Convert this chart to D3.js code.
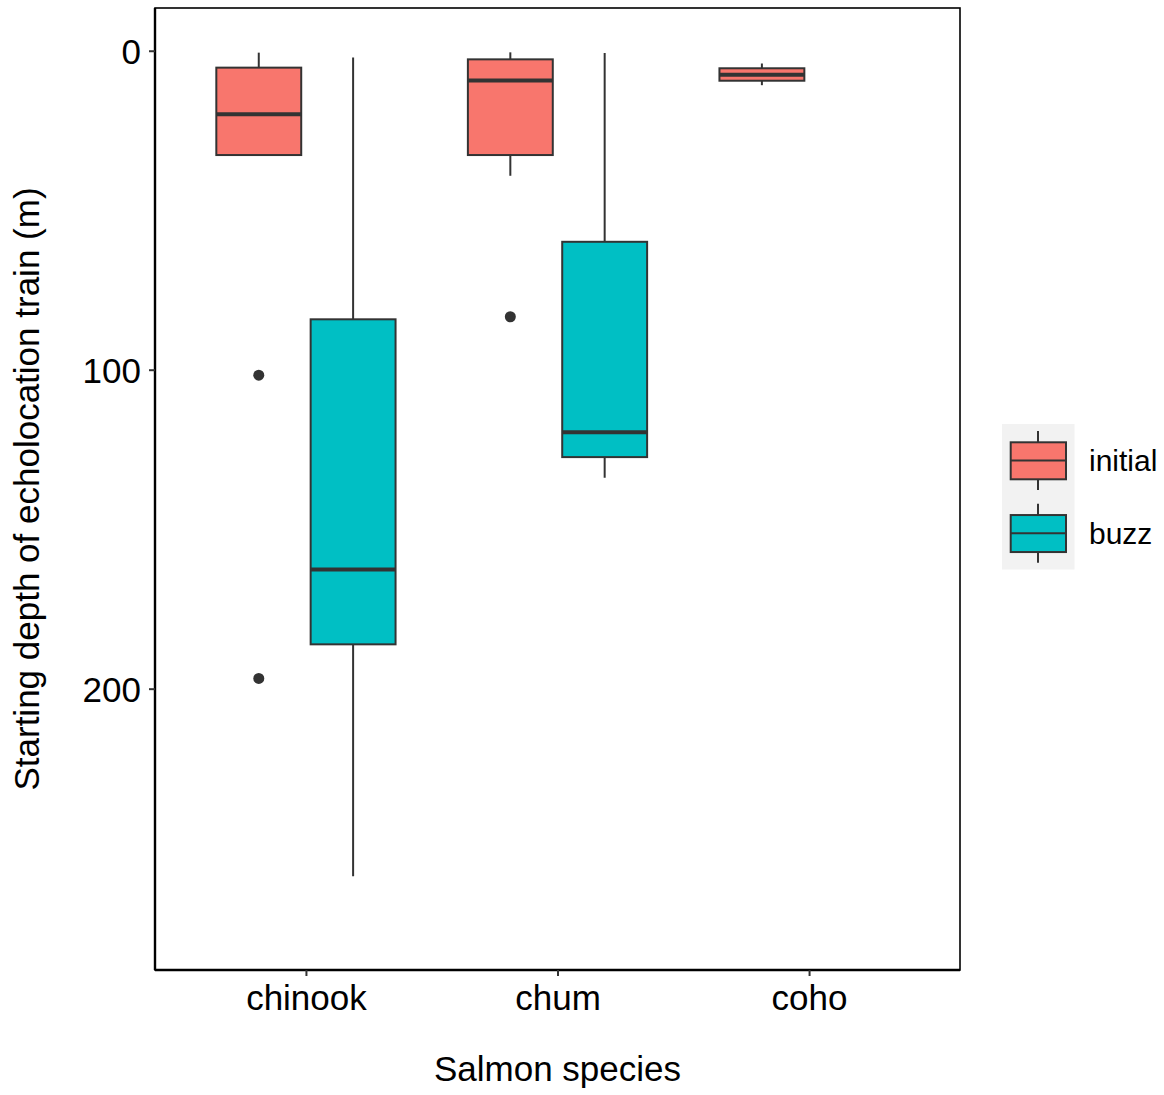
<!DOCTYPE html>
<html>
<head>
<meta charset="utf-8">
<script src="https://cdn.jsdelivr.net/npm/d3@7"></script>
<style>
  body { margin: 0; background: #fff; }
  text { font-family: "Liberation Sans", Arial, Helvetica, sans-serif; }
</style>
</head>
<body>
<div id="chart"></div>
<script>
// Data (depth in m)
const species = ['chinook', 'chum', 'coho'];
const groups = ['initial', 'buzz'];
const groupColors = ['#F8766D', '#00BFC4'];

// box stats, one entry per box
const boxSpecies = ['chinook', 'chinook', 'chum', 'chum', 'coho'];
const boxGroup   = ['initial', 'buzz', 'initial', 'buzz', 'initial'];
const whiskLo    = [0.6, 2.1, 0.5, 0.7, 4.0];
const q1s        = [5.3, 84.2, 2.7, 59.9, 5.5];
const medians    = [19.9, 162.6, 9.3, 119.6, 7.5];
const q3s        = [32.7, 186.1, 32.7, 127.4, 9.4];
const whiskHi    = [32.7, 258.8, 39.2, 133.9, 10.8];

// outliers
const outSpecies = ['chinook', 'chinook', 'chum'];
const outGroup   = ['initial', 'initial', 'initial'];
const outValues  = [101.7, 196.8, 83.4];

const yTicks = [0, 100, 200];

// Layout
const W = 1164, H = 1095;
const PL = 155, PR = 960, PT = 8, PB = 970;

const svg = d3.select('#chart').append('svg')
  .attr('width', W).attr('height', H);

const x = d3.scalePoint().domain(species).range([PL, PR]).padding(0.6);
const step = x.step();
const dodge = d3.scaleBand().domain(groups).range([-0.375 * step, 0.375 * step]);
const boxW = dodge.bandwidth() * 0.9;
const y = d3.scaleLinear().domain([-13.4, 288.2]).range([PT, PB]);
const color = d3.scaleOrdinal().domain(groups).range(groupColors);

const boxes = boxSpecies.map((s, i) => ({
  s, g: boxGroup[i], lo: whiskLo[i], q1: q1s[i], med: medians[i], q3: q3s[i], hi: whiskHi[i]
}));
const outliers = outSpecies.map((s, i) => ({ s, g: outGroup[i], v: outValues[i] }));

const cx = d => x(d.s) + dodge(d.g) + dodge.bandwidth() / 2;

// panel border
svg.append('rect')
  .attr('x', PL).attr('y', PT)
  .attr('width', PR - PL).attr('height', PB - PT)
  .attr('fill', 'none').attr('stroke', '#000').attr('stroke-width', 1.6);

const plot = svg.append('g');

// whiskers
plot.selectAll('line.whisk').data(boxes).enter().append('line')
  .attr('class', 'whisk')
  .attr('x1', cx).attr('x2', cx)
  .attr('y1', d => y(d.lo)).attr('y2', d => y(d.hi))
  .attr('stroke', '#333').attr('stroke-width', 2);

// boxes
plot.selectAll('rect.box').data(boxes).enter().append('rect')
  .attr('class', 'box')
  .attr('x', d => cx(d) - boxW / 2)
  .attr('y', d => y(d.q1))
  .attr('width', boxW)
  .attr('height', d => y(d.q3) - y(d.q1))
  .attr('fill', d => color(d.g))
  .attr('stroke', '#333').attr('stroke-width', 2);

// medians
plot.selectAll('line.med').data(boxes).enter().append('line')
  .attr('class', 'med')
  .attr('x1', d => cx(d) - boxW / 2).attr('x2', d => cx(d) + boxW / 2)
  .attr('y1', d => y(d.med)).attr('y2', d => y(d.med))
  .attr('stroke', '#333').attr('stroke-width', 4);

// outliers
plot.selectAll('circle.out').data(outliers).enter().append('circle')
  .attr('class', 'out')
  .attr('cx', cx).attr('cy', d => y(d.v))
  .attr('r', 5.5).attr('fill', '#333');

// axes
const xAxis = svg.append('g')
  .attr('transform', `translate(0,${PB})`)
  .call(d3.axisBottom(x).tickSize(6).tickPadding(9));
xAxis.select('.domain').attr('stroke', '#000').attr('stroke-width', 2.4)
  .attr('d', `M${PL},0H${PR}`);
xAxis.selectAll('.tick line').attr('stroke', '#333').attr('stroke-width', 2);
xAxis.selectAll('.tick text').attr('font-size', 35).attr('fill', '#000')
  .attr('font-family', '"Liberation Sans", Arial, sans-serif');

const yAxis = svg.append('g')
  .attr('transform', `translate(${PL},0)`)
  .call(d3.axisLeft(y).tickValues(yTicks).tickSize(6).tickPadding(8));
yAxis.select('.domain').attr('stroke', '#000').attr('stroke-width', 2.4)
  .attr('d', `M0,${PT}V${PB}`);
yAxis.selectAll('.tick line').attr('stroke', '#333').attr('stroke-width', 2);
yAxis.selectAll('.tick text').attr('font-size', 35).attr('fill', '#000')
  .attr('dy', '0.36em')
  .attr('font-family', '"Liberation Sans", Arial, sans-serif');

// axis titles
svg.append('text')
  .attr('x', (PL + PR) / 2).attr('y', 1081)
  .attr('text-anchor', 'middle').attr('font-size', 35)
  .text('Salmon species');

svg.append('text')
  .attr('transform', `translate(39,${(PT + PB) / 2}) rotate(-90)`)
  .attr('text-anchor', 'middle').attr('font-size', 35)
  .text('Starting depth of echolocation train (m)');

// legend
const legend = svg.append('g').attr('transform', 'translate(1002,424)');
legend.append('rect')
  .attr('width', 72.5).attr('height', 145.5)
  .attr('fill', '#f2f2f2');

const keyH = 72.75;
groups.forEach((g, i) => {
  const k = legend.append('g').attr('transform', `translate(0,${i * keyH})`);
  const kc = 36;
  k.append('line')
    .attr('x1', kc).attr('x2', kc).attr('y1', 7).attr('y2', 66)
    .attr('stroke', '#333').attr('stroke-width', 2);
  k.append('rect')
    .attr('x', 8.7).attr('y', 18.3).attr('width', 55.3).attr('height', 37)
    .attr('fill', color(g)).attr('stroke', '#333').attr('stroke-width', 2);
  k.append('line')
    .attr('x1', 8.7).attr('x2', 64).attr('y1', 36.5).attr('y2', 36.5)
    .attr('stroke', '#333').attr('stroke-width', 2);
  k.append('text')
    .attr('x', 87).attr('y', 36.5).attr('dy', '0.36em')
    .attr('font-size', 30)
    .text(g);
});
</script>
</body>
</html>
